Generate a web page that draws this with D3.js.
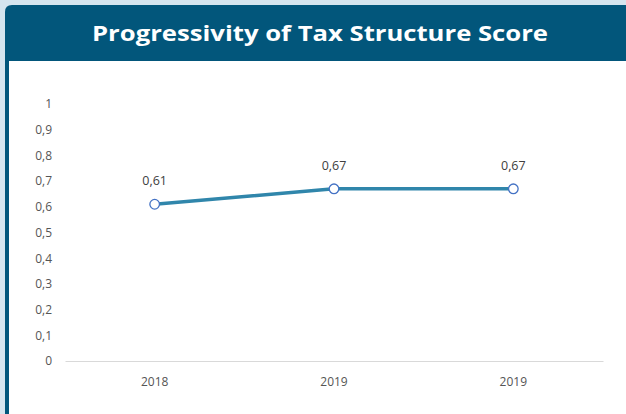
<!DOCTYPE html>
<html><head><meta charset="utf-8">
<script src="https://cdn.jsdelivr.net/npm/d3@7"></script>
<style>
html,body{margin:0;padding:0;background:#d5e5ef;overflow:hidden;}
svg{display:block;}
</style></head>
<body>
<svg id="c" width="626" height="414"></svg>
<script>
const title = "Progressivity of Tax Structure Score";
const categories = ["2018", "2019", "2019"];
const values = [0.61, 0.67, 0.67];
const yTicks = [0, 0.1, 0.2, 0.3, 0.4, 0.5, 0.6, 0.7, 0.8, 0.9, 1];

(function () {
const svg = d3.select("#c");
const W = 626, H = 414;
const dark = "#02567b";

// card
svg.append("path")
  .attr("d", `M5,${H} L5,12 Q5,5 12,5 L${W},5 L${W},${H} Z`)
  .attr("fill", dark);
svg.append("rect").attr("x", 9).attr("y", 61).attr("width", W - 9).attr("height", H - 61).attr("fill", "#fff");

svg.append("text").attr("x", 320).attr("y", 41)
  .attr("text-anchor", "middle").attr("fill", "#fff")
  .attr("font-family", "'Open Sans', sans-serif").attr("font-weight", 700)
  .attr("font-size", 21.5).attr("textLength", 456).attr("lengthAdjust", "spacingAndGlyphs")
  .text(title);

const mLeft = 65, mRight = 603, mTop = 104, mBottom = 361;
const x = d3.scaleBand().domain(d3.range(categories.length)).range([mLeft, mRight]);
const y = d3.scaleLinear().domain([0, 1]).range([mBottom, mTop]);
const fmt = d => d3.format(".2~f")(d).replace(".", ",");

// y axis
const yAxis = d3.axisLeft(y).tickValues(yTicks).tickSize(0).tickPadding(13)
  .tickFormat(d => fmt(d));
const gy = svg.append("g").attr("transform", `translate(${mLeft},0)`).call(yAxis);
gy.select(".domain").remove();
gy.selectAll("text").attr("fill", "#555").attr("font-size", 12)
  .attr("font-family", "'Open Sans', sans-serif");

// x axis
const xAxis = d3.axisBottom(x).tickSize(0).tickPadding(16).tickFormat(i => categories[i]);
const gx = svg.append("g").attr("transform", `translate(0,${mBottom})`).call(xAxis);
gx.select(".domain").attr("stroke", "#d9d9d9").attr("stroke-width", 1.2);
gx.selectAll("text").attr("fill", "#555").attr("font-size", 12)
  .attr("font-family", "'Open Sans', sans-serif");

const cx = i => x(i) + x.bandwidth() / 2;
const line = d3.line().x((d, i) => cx(i)).y(d => y(d));
svg.append("path").datum(values).attr("d", line)
  .attr("fill", "none").attr("stroke", "#3086ab").attr("stroke-width", 3.5)
  .attr("stroke-linejoin", "round");

svg.selectAll("circle.pt").data(values).join("circle")
  .attr("class", "pt").attr("cx", (d, i) => cx(i)).attr("cy", d => y(d))
  .attr("r", 4.8).attr("fill", "#fff").attr("stroke", "#4472c4").attr("stroke-width", 1.3);

svg.selectAll("text.lbl").data(values).join("text")
  .attr("class", "lbl").attr("x", (d, i) => cx(i)).attr("y", d => y(d) - 19)
  .attr("text-anchor", "middle").attr("fill", "#404040").attr("font-size", 12.5)
  .attr("font-family", "'Open Sans', sans-serif").text(d => fmt(d));
})();
</script>
</body></html>
